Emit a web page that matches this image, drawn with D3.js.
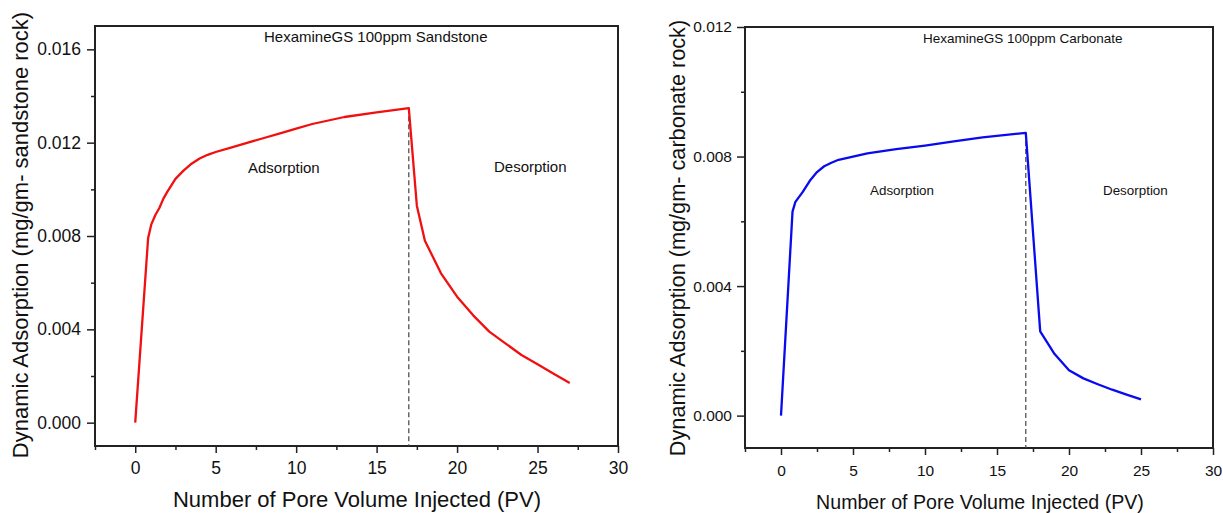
<!DOCTYPE html>
<html>
<head>
<meta charset="UTF-8">
<title>Dynamic Adsorption</title>
<script src="https://d3js.org/d3.v7.min.js"></script>
<style>
  body { margin: 0; background: #fff; }
  svg { display: block; font-family: "Liberation Sans", Arial, sans-serif; }
</style>
</head>
<body>
<svg width="1223" height="513"></svg>
<script>
// sandstone (left panel)
var sandPV  = [0, 0.8, 1, 1.25, 1.5, 1.75, 2, 2.5, 3, 3.5, 4, 4.5, 5, 6, 7, 8, 9, 10, 11, 13, 15, 17,
               17.5, 18, 19, 20, 21, 22, 23, 24, 25, 26, 27];
var sandAds = [0, 0.0079, 0.0085, 0.0089, 0.0092, 0.0096, 0.0099, 0.01045, 0.0108, 0.0111, 0.01132, 0.01148, 0.0116, 0.0118, 0.0120, 0.0122, 0.0124, 0.0126, 0.0128, 0.0131, 0.0133, 0.01348,
               0.0093, 0.0078, 0.0064, 0.0054, 0.0046, 0.0039, 0.0034, 0.0029, 0.0025, 0.0021, 0.0017];
// carbonate (right panel)
var carbPV  = [0, 0.8, 1, 1.5, 2, 2.5, 3, 3.5, 4, 5, 6, 8, 10, 12, 14, 17,
               18, 19, 20, 21, 22, 23, 24, 25];
var carbAds = [0, 0.0063, 0.0066, 0.0069, 0.00725, 0.00752, 0.0077, 0.00781, 0.0079, 0.0080, 0.0081, 0.00823, 0.00834, 0.00847, 0.00859, 0.00873,
               0.0026, 0.0019, 0.0014, 0.00115, 0.00097, 0.0008, 0.00065, 0.0005];

var xTicks = [0, 5, 10, 15, 20, 25, 30];
var xMinor = [-2.5, 2.5, 7.5, 12.5, 17.5, 22.5, 27.5];
var sandYTicks = [0, 0.004, 0.008, 0.012, 0.016];
var sandYMinor = [0.002, 0.006, 0.010, 0.014];
var carbYTicks = [0, 0.004, 0.008, 0.012];
var carbYMinor = [0.002, 0.006, 0.010];
var switchPV = 17;

var svg = d3.select("svg");

function panel(o) {
  var x = d3.scaleLinear().domain([-2.5, 30]).range([o.left, o.right]);
  var y = d3.scaleLinear().domain(o.yDomain).range([o.bottom, o.top]);
  var g = svg.append("g");

  // minor ticks
  g.append("g")
    .attr("transform", "translate(0," + o.bottom + ")")
    .call(d3.axisBottom(x).tickValues(xMinor).tickSize(4).tickFormat("").tickSizeOuter(0))
    .call(function(s) { s.select(".domain").remove(); });
  g.append("g")
    .attr("transform", "translate(" + o.left + ",0)")
    .call(d3.axisLeft(y).tickValues(o.yMinor).tickSize(4).tickFormat("").tickSizeOuter(0))
    .call(function(s) { s.select(".domain").remove(); });

  // major ticks
  var xa = g.append("g")
    .attr("transform", "translate(0," + o.bottom + ")")
    .call(d3.axisBottom(x).tickValues(xTicks).tickSize(7).tickPadding(o.xPad).tickSizeOuter(0));
  var ya = g.append("g")
    .attr("transform", "translate(" + o.left + ",0)")
    .call(d3.axisLeft(y).tickValues(o.yTicks).tickSize(8).tickPadding(o.yPad)
      .tickFormat(d3.format(".3f")).tickSizeOuter(0));
  [xa, ya].forEach(function(a) {
    a.select(".domain").remove();
    a.selectAll("text").attr("font-size", o.tickFont + "px").attr("fill", "#111")
      .attr("font-family", "Liberation Sans, Arial, sans-serif");
  });
  g.selectAll(".tick line").attr("stroke", "#222").attr("stroke-width", 1.5);

  // frame
  g.append("rect")
    .attr("x", o.left).attr("y", o.top)
    .attr("width", o.right - o.left).attr("height", o.bottom - o.top)
    .attr("fill", "none").attr("stroke", "#222").attr("stroke-width", 2);

  // dashed switch line
  var peak = d3.max(o.ys);
  g.append("line")
    .attr("x1", x(switchPV)).attr("x2", x(switchPV))
    .attr("y1", y(peak)).attr("y2", o.bottom)
    .attr("stroke", "#444").attr("stroke-width", 1.2)
    .attr("stroke-dasharray", "5,3");

  // curve
  var pts = o.xs.map(function(v, i) { return [v, o.ys[i]]; });
  g.append("path")
    .datum(pts)
    .attr("fill", "none")
    .attr("stroke", o.color)
    .attr("stroke-width", 2.3)
    .attr("stroke-linejoin", "round")
    .attr("d", d3.line().x(function(d) { return x(d[0]); }).y(function(d) { return y(d[1]); }));

  // annotations
  o.notes.forEach(function(n) {
    g.append("text").attr("x", n[0]).attr("y", n[1])
      .attr("font-size", n[3] + "px").attr("fill", "#111")
      .text(n[2]);
  });

  // axis titles
  g.append("text")
    .attr("x", (o.xTitle[0])).attr("y", o.xTitle[1])
    .attr("text-anchor", "middle").attr("font-size", o.xTitle[2] + "px").attr("fill", "#111")
    .text("Number of Pore Volume Injected (PV)");
  g.append("text")
    .attr("transform", "translate(" + o.yTitle[0] + "," + o.yTitle[1] + ") rotate(-90)")
    .attr("text-anchor", "middle").attr("font-size", o.yTitle[2] + "px").attr("fill", "#111")
    .text(o.yLabel);
}

panel({
  left: 95, right: 618, top: 26, bottom: 446,
  yDomain: [-0.001, 0.017],
  yTicks: sandYTicks, yMinor: sandYMinor,
  xs: sandPV, ys: sandAds, color: "#f01010",
  tickFont: 17.5, xPad: 9, yPad: 6,
  notes: [[264, 42, "HexamineGS 100ppm Sandstone", 15],
          [248, 173, "Adsorption", 15],
          [494, 172, "Desorption", 15]],
  xTitle: [357, 507, 22],
  yTitle: [28, 235, 22],
  yLabel: "Dynamic Adsorption (mg/gm- sandstone rock)"
});

panel({
  left: 745, right: 1213, top: 27, bottom: 448,
  yDomain: [-0.001, 0.012],
  yTicks: carbYTicks, yMinor: carbYMinor,
  xs: carbPV, ys: carbAds, color: "#0a0aee",
  tickFont: 15.5, xPad: 10, yPad: 5,
  notes: [[923, 43, "HexamineGS 100ppm Carbonate", 13.5],
          [870, 195, "Adsorption", 13.4],
          [1103, 195, "Desorption", 13.4]],
  xTitle: [980, 509, 19.6],
  yTitle: [685, 238, 21.7],
  yLabel: "Dynamic Adsorption (mg/gm- carbonate rock)"
});
</script>
</body>
</html>
